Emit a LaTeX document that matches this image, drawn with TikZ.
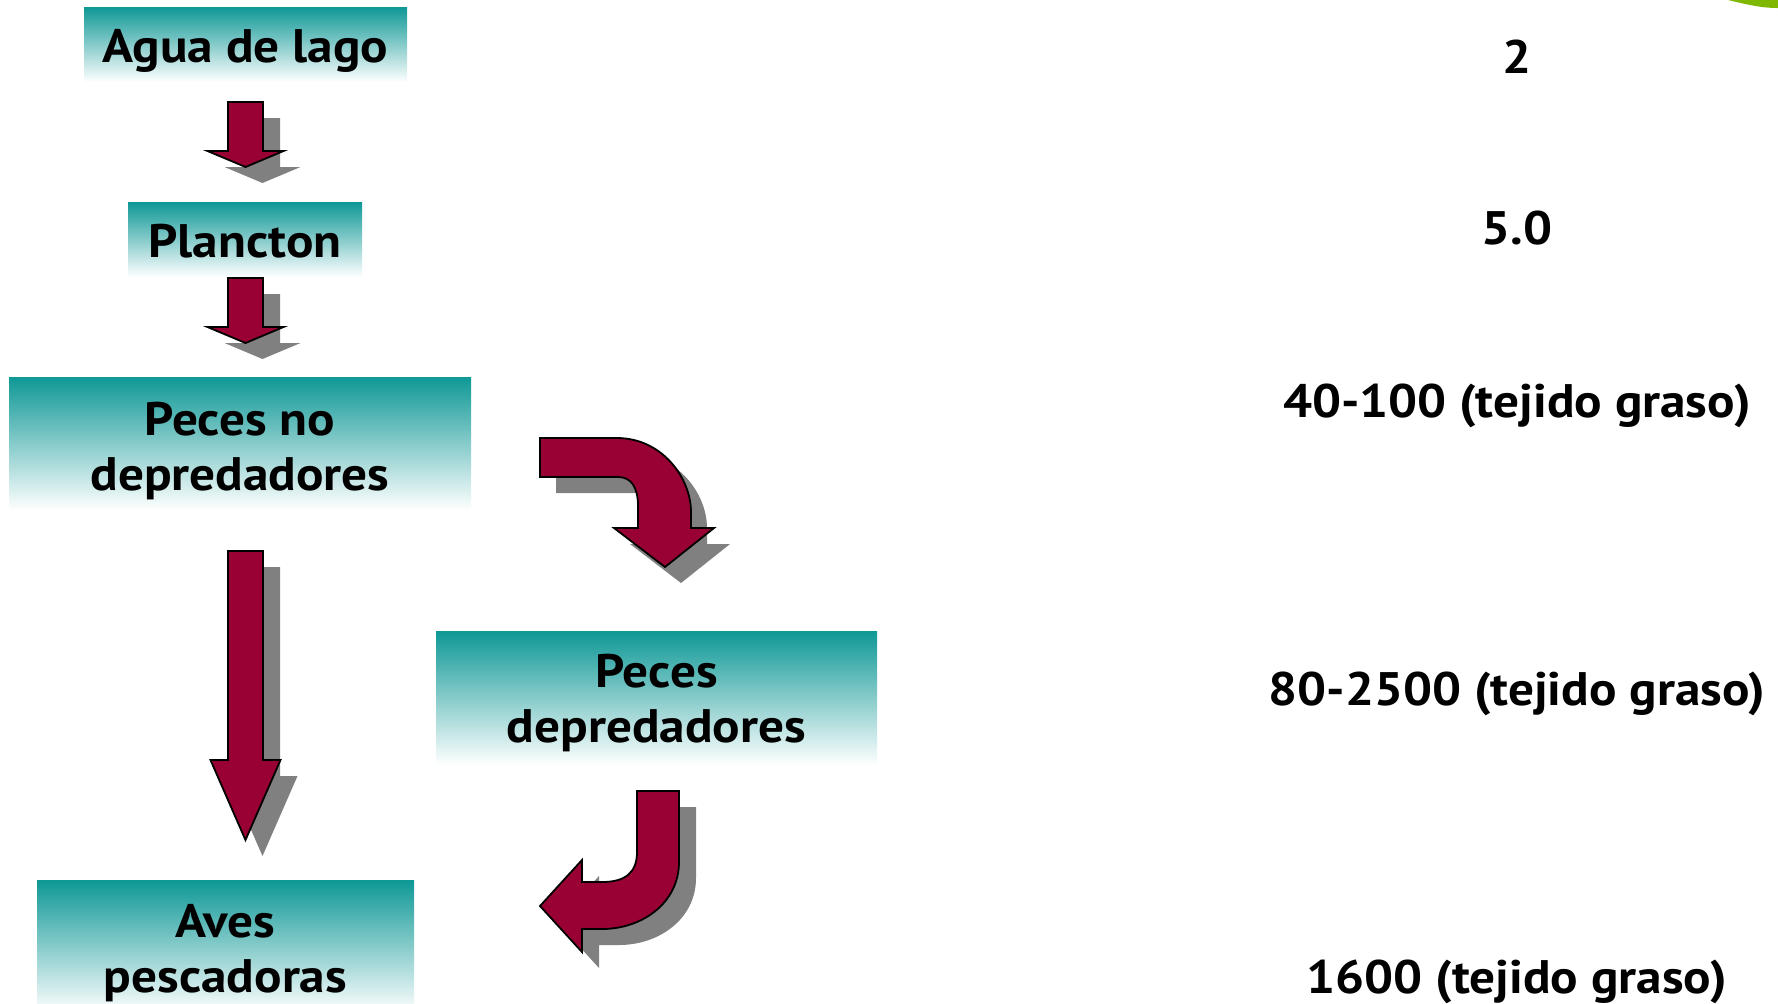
\documentclass[tikz,border=0pt]{standalone}
\usepackage{fontspec}
\setmainfont{PT Sans}[FakeStretch=1.09]

\definecolor{verdeazul}{RGB}{14,152,150}
\definecolor{rojo}{RGB}{153,0,51}
\definecolor{gris}{RGB}{128,128,128}
\definecolor{verde}{RGB}{127,184,0}

\newcommand{\flechaabajo}[5]{% x centro, y arriba, y base punta, y punta, media punta
  \fill[sombra, shift={(17,16)}] (#1-17.5,#2) -- (#1+17.5,#2) -- (#1+17.5,#3) -- (#1+#5,#3) -- (#1,#4) -- (#1-#5,#3) -- (#1-17.5,#3) -- cycle;
  \draw[flecha] (#1-17.5,#2) -- (#1+17.5,#2) -- (#1+17.5,#3) -- (#1+#5,#3) -- (#1,#4) -- (#1-#5,#3) -- (#1-17.5,#3) -- cycle;
}
\newcommand{\curvauno}{(540,438) -- (617,438) .. controls (662,438) and (691,478) .. (691,512) -- (691,528) -- (714,528) -- (665,567) -- (614,528) -- (638,528) -- (638,506) .. controls (638,487) and (631,477) .. (618,477) -- (540,477) -- cycle}
\newcommand{\curvados}{(637,791) -- (679,791) -- (679,862) .. controls (679,903) and (642,929) .. (602,929) -- (582,929) -- (582,952) -- (540,906) -- (582,860) -- (582,882) -- (602,882) .. controls (626,882) and (637,872) .. (637,852) -- cycle}

\begin{document}
\begin{tikzpicture}[x=0.5pt, y=-0.5pt,
    caja/.style = {top color=verdeazul, bottom color=white, inner sep=0pt},
    texto/.style = {inner sep=0pt, align=center, font=\fontsize{23.5}{27.5}\selectfont\bfseries},
    valor/.style = {anchor=base, inner sep=0pt, font=\fontsize{23.5}{27.5}\selectfont\bfseries},
    flecha/.style = {fill=rojo, draw=black, line width=0.9pt, line join=miter},
    sombra/.style = {fill=gris}]
    \clip (0,0) rectangle (1778,1003);

    % cajas
    \node[caja, minimum width=161.5pt, minimum height=37.5pt] (agua) at (245.5,44.5) {};
    \node[caja, minimum width=117pt, minimum height=37.5pt] (plancton) at (245,239.5) {};
    \node[caja, minimum width=231pt, minimum height=66.5pt] (nodep) at (240,443.5) {};
    \node[caja, minimum width=220.5pt, minimum height=67pt] (dep) at (656.5,698) {};
    \node[caja, minimum width=188.5pt, minimum height=66.5pt] (aves) at (225.5,946.5) {};

    \node[texto] (agua-t) at (245.5,50.5) {Agua de lago};
    \node[texto] (plancton-t) at (245,241.5) {Plancton};
    \node[texto] (nodep-t) at (240,451.5) {Peces no\\depredadores};
    \node[texto] (dep-t) at (656.5,703) {Peces\\depredadores};
    \node[texto] (aves-t) at (225.5,953.5) {Aves\\pescadoras};

    % valores
    \node[valor] (v1) at (1517,73) {2};
    \node[valor] (v2) at (1517,244) {5.0};
    \node[valor] (v3) at (1517,417) {40-100 (tejido graso)};
    \node[valor] (v4) at (1517,705) {80-2500 (tejido graso)};
    \node[valor] (v5) at (1517,993) {1600 (tejido graso)};

    % flechas
    \flechaabajo{245.5}{102}{151}{167}{38}
    \flechaabajo{245.5}{278}{327}{343}{38}
    \flechaabajo{245.5}{551}{760}{840}{35}

    \fill[sombra, shift={(16,16)}] \curvauno;
    \draw[flecha] \curvauno;
    \fill[sombra, shift={(17,16)}] \curvados;
    \draw[flecha] \curvados;

    \fill[verde] (1728,0) .. controls (1745,4) and (1760,8) .. (1778,8) -- (1778,0) -- cycle;
\end{tikzpicture}
\end{document}
